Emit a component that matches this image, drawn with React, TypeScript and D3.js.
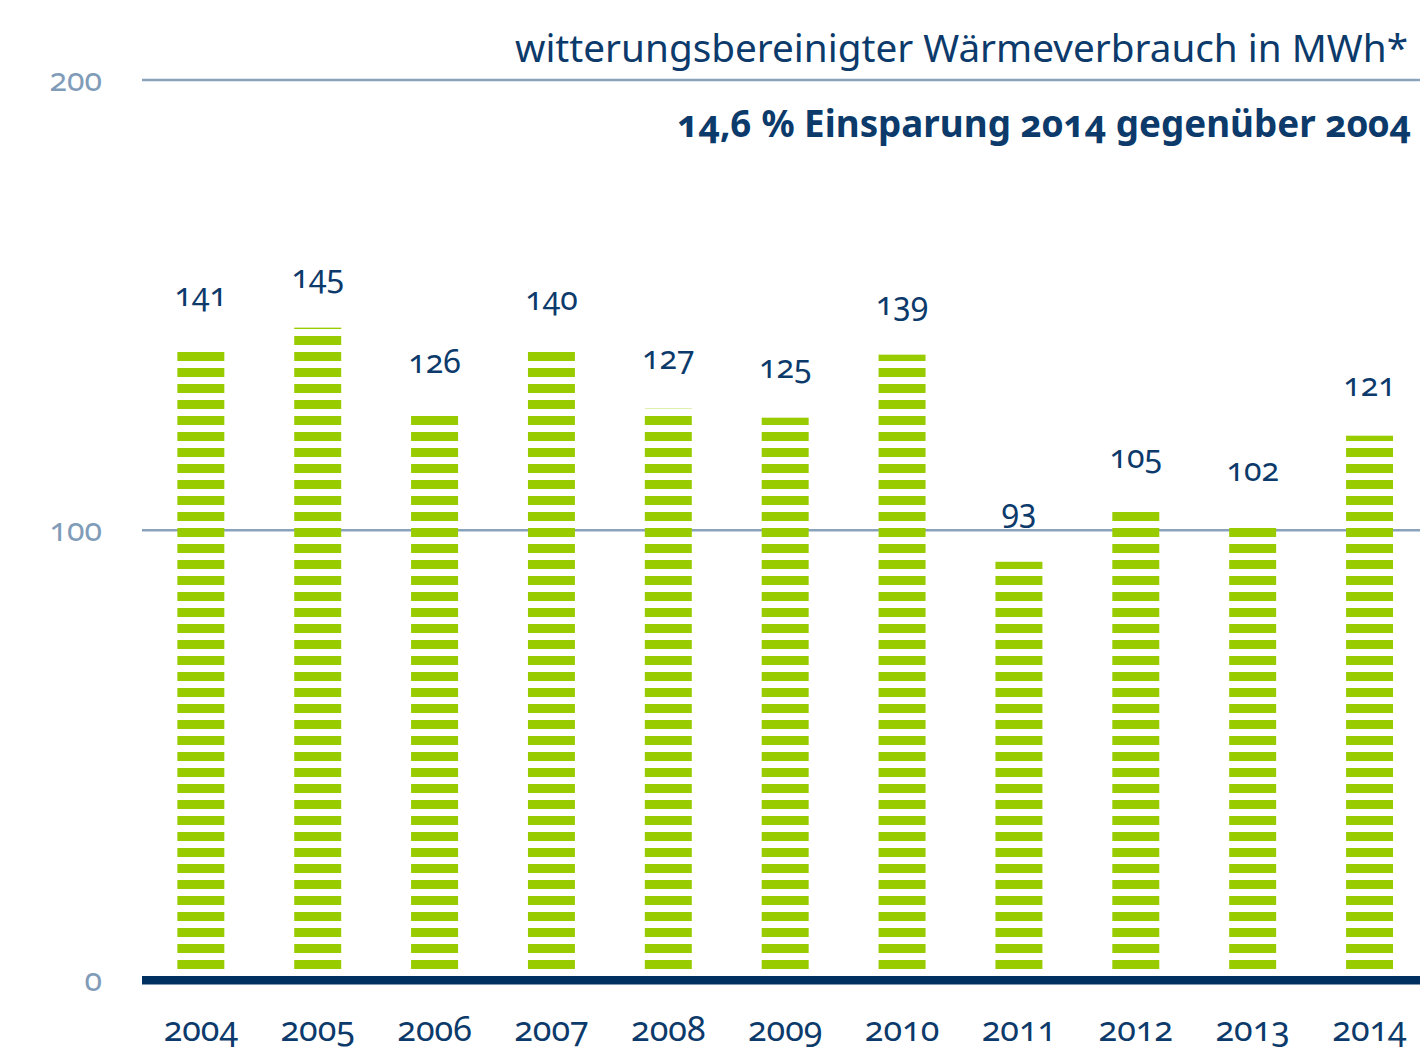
import React from "react";
import * as d3 from "d3";

const years = ["2004", "2005", "2006", "2007", "2008", "2009", "2010", "2011", "2012", "2013", "2014"];
const values = [141, 145, 126, 140, 127, 125, 139, 93, 105, 102, 121];
const yTicks = [0, 100, 200];
const title = "witterungsbereinigter Wärmeverbrauch in MWh*";
const subtitle = "14,6 % Einsparung 2014 gegenüber 2004";

const W = 1420;
const H = 1052;
const NAVY = "#0c3a6b";
const GRID = "#8aa3bc";
const TICK = "#809cb8";
const GREEN = "#99cc00";
const BASE = "#00305f";
const FONT = "'Noto Sans', 'Open Sans', sans-serif";

export default function App() {
  const x = d3
    .scaleBand<string>()
    .domain(years)
    .range([142.4, 142.4 + 11 * 116.87])
    .paddingInner(0.598)
    .paddingOuter(0.299);
  const y = d3.scaleLinear().domain([0, 200]).range([980.5, 80]);
  const baseTop = 976;

  return (
    <svg
      width={W}
      height={H}
      viewBox={`0 0 ${W} ${H}`}
      style={{ position: "absolute", left: 0, top: 0, background: "#fff" }}
    >
      <defs>
        <pattern id="stripes" patternUnits="userSpaceOnUse" x={0} y={0} width={W} height={16}>
          <rect x={0} y={0} width={W} height={9} fill={GREEN} />
        </pattern>
      </defs>

      {/* gridlines */}
      {yTicks
        .filter((t) => t > 0)
        .map((t) => (
          <line key={t} x1={142} x2={W} y1={y(t)} y2={y(t)} stroke={GRID} strokeWidth={2.5} />
        ))}

      {/* y tick labels */}
      {yTicks.map((t) => (
        <text
          key={t}
          x={102}
          y={y(t) + 2}
          textAnchor="end"
          dominantBaseline="middle"
          fontFamily={FONT}
          fontSize={32}
          fill={TICK}
          style={{ fontVariantNumeric: "oldstyle-nums" }}
        >
          {t}
        </text>
      ))}

      {/* bars */}
      {years.map((yr, i) => (
        <rect
          key={yr}
          x={x(yr)}
          y={y(values[i])}
          width={x.bandwidth()}
          height={baseTop - y(values[i])}
          fill="url(#stripes)"
        />
      ))}

      {/* value labels */}
      {years.map((yr, i) => (
        <text
          key={yr}
          x={(x(yr) as number) + x.bandwidth() / 2}
          y={y(values[i]) - 40}
          textAnchor="middle"
          fontFamily={FONT}
          fontSize={32}
          fill={NAVY}
          style={{ fontVariantNumeric: "oldstyle-nums" }}
        >
          {values[i]}
        </text>
      ))}

      {/* baseline */}
      <rect x={142} y={baseTop} width={W - 142} height={8.5} fill={BASE} />

      {/* year labels */}
      {years.map((yr) => (
        <text
          key={yr}
          x={(x(yr) as number) + x.bandwidth() / 2}
          y={1041}
          textAnchor="middle"
          fontFamily={FONT}
          fontSize={34}
          fill={NAVY}
          style={{ fontVariantNumeric: "oldstyle-nums" }}
        >
          {yr}
        </text>
      ))}

      {/* titles */}
      <text
        x={1408}
        y={62}
        textAnchor="end"
        fontFamily={FONT}
        fontSize={38}
        fill={NAVY}
        textLength={893}
        lengthAdjust="spacingAndGlyphs"
      >
        {title}
      </text>
      <text
        x={1411}
        y={137}
        textAnchor="end"
        fontFamily={FONT}
        fontSize={38}
        fontWeight={700}
        fill={NAVY}
        style={{ fontVariantNumeric: "oldstyle-nums" }}
        textLength={734}
        lengthAdjust="spacingAndGlyphs"
      >
        {subtitle}
      </text>
    </svg>
  );
}
